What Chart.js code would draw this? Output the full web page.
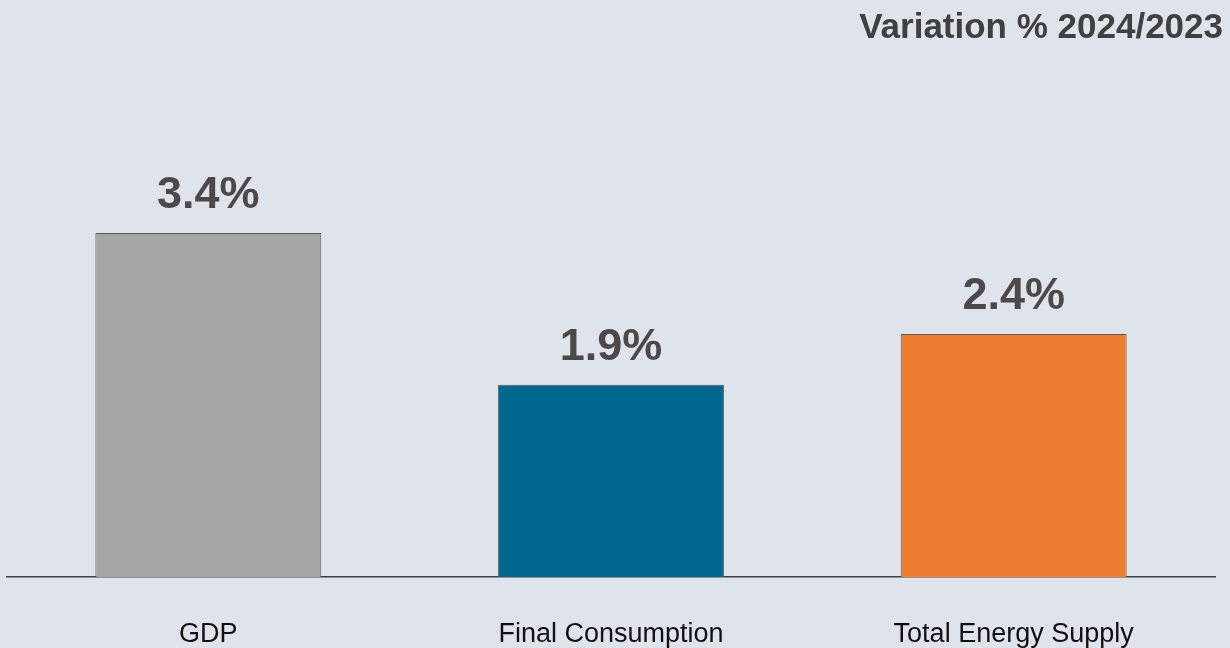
<!DOCTYPE html>
<html>
<head>
<meta charset="utf-8">
<script src="https://cdn.jsdelivr.net/npm/chart.js@4.4.1/dist/chart.umd.min.js"></script>
<style>
  html, body { margin: 0; padding: 0; background: #dfe3ec; }
  #wrap { width: 1230px; height: 648px; position: relative; }
</style>
</head>
<body>
<div id="wrap"><canvas id="varChart"></canvas></div>
<script>
const categories = ["GDP", "Final Consumption", "Total Energy Supply"];
const variation = [3.4, 1.9, 2.4];
const barColors = ["#a6a6a6", "#00688f", "#ed7d31"];
const chartTitle = "Variation % 2024/2023";

// value labels over each bar
const valueLabels = {
  id: "valueLabels",
  afterDatasetsDraw(chart) {
    const { ctx } = chart;
    const meta = chart.getDatasetMeta(0);
    ctx.save();
    ctx.font = "bold 45px 'Liberation Sans', Arial, sans-serif";
    ctx.fillStyle = "#4f4848";
    ctx.textAlign = "center";
    ctx.textBaseline = "alphabetic";
    meta.data.forEach((bar, i) => {
      ctx.fillText(variation[i].toFixed(1) + "%", bar.x, bar.y - 25);
    });
    ctx.restore();
  }
};

// heading in the top right corner
const cornerTitle = {
  id: "cornerTitle",
  afterDraw(chart) {
    const { ctx } = chart;
    ctx.save();
    ctx.font = "bold 35px 'Liberation Sans', Arial, sans-serif";
    ctx.fillStyle = "#404040";
    ctx.textAlign = "right";
    ctx.textBaseline = "alphabetic";
    ctx.fillText(chartTitle, chart.width - 7, 38);
    ctx.restore();
  }
};

new Chart(document.getElementById("varChart"), {
  type: "bar",
  data: {
    labels: categories,
    datasets: [{
      data: variation,
      backgroundColor: barColors,
      borderColor: "#5a5a5a",
      borderWidth: 1,
      categoryPercentage: 1,
      barPercentage: 0.561
    }]
  },
  options: {
    responsive: true,
    maintainAspectRatio: false,
    animation: false,
    layout: { padding: { top: 71, left: 7, right: 15, bottom: 0 } },
    plugins: {
      legend: { display: false },
      tooltip: { enabled: false }
    },
    scales: {
      x: {
        afterFit(scale) { scale.height = 71; },
        grid: { display: false, drawTicks: false },
        border: { display: true, color: "#404040", width: 1.5 },
        ticks: {
          color: "#111",
          padding: 41,
          font: { family: "'Liberation Sans', Arial, sans-serif", size: 27 }
        }
      },
      y: {
        display: false,
        min: 0,
        max: 5
      }
    }
  },
  plugins: [valueLabels, cornerTitle]
});
</script>
</body>
</html>
